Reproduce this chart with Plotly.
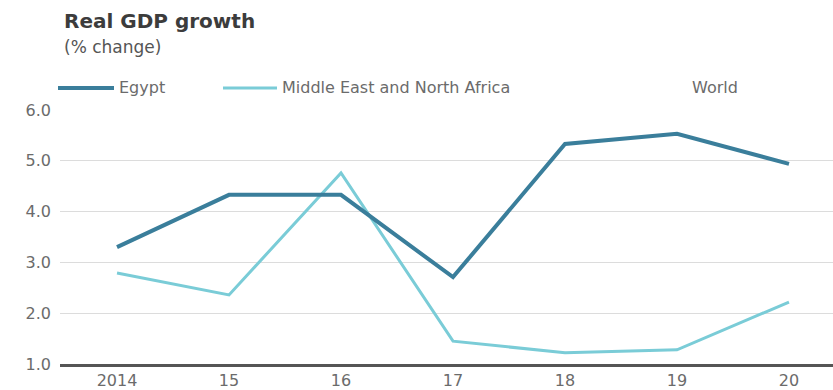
import plotly.graph_objects as go

# ---- data ----
years = ["2014", "15", "16", "17", "18", "19", "20"]
egypt = [3.30, 4.33, 4.33, 2.71, 5.33, 5.53, 4.94]
mena = [2.79, 2.36, 4.76, 1.45, 1.22, 1.28, 2.22]
series_names = ["Egypt", "Middle East and North Africa", "World"]
y_ticks = [1, 2, 3, 4, 5, 6]
y_tick_text = ["1.0", "2.0", "3.0", "4.0", "5.0", "6.0"]

# ---- style ----
C_EGYPT = "#3a7e9b"
C_MENA = "#7accd7"
FONT = "DejaVu Sans"
GREY = "#6b6b6b"

fig = go.Figure()
fig.add_trace(go.Scatter(x=list(range(len(years))), y=mena, mode="lines",
                         name=series_names[1],
                         line=dict(color=C_MENA, width=3)))
fig.add_trace(go.Scatter(x=list(range(len(years))), y=egypt, mode="lines",
                         name=series_names[0],
                         line=dict(color=C_EGYPT, width=4)))

fig.update_layout(
    width=833, height=390,
    margin=dict(l=60, r=0, t=110, b=26),
    paper_bgcolor="white", plot_bgcolor="white",
    showlegend=False,
    font=dict(family=FONT, color=GREY),
)

fig.update_xaxes(
    range=[-0.509, 6.393],
    tickmode="array", tickvals=list(range(len(years))), ticktext=years,
    showgrid=False, zeroline=False,
    showline=True, linecolor="#555555", linewidth=3,
    ticks="", tickfont=dict(size=16, color=GREY, family=FONT),
)
fig.update_yaxes(
    range=[1, 6],
    tickmode="array", tickvals=y_ticks, ticktext=y_tick_text,
    showgrid=True, gridcolor="#dcdcdc", gridwidth=1,
    zeroline=False, showline=False, ticks="",
    tickfont=dict(size=16, color=GREY, family=FONT),
    ticklabelstandoff=8,
)

# title and subtitle
fig.add_annotation(text="<b>Real GDP growth</b>", xref="paper", yref="paper",
                   x=0.003, y=1.0, xanchor="left", yanchor="middle",
                   yshift=110 - 21, showarrow=False,
                   font=dict(size=20, color="#3c3c3c", family=FONT))
fig.add_annotation(text="(% change)", xref="paper", yref="paper",
                   x=0.003, y=1.0, xanchor="left", yanchor="middle",
                   yshift=110 - 47, showarrow=False,
                   font=dict(size=17, color="#555555", family=FONT))

# legend (manual, to match swatch lengths)
legend_y_px = 88
plot_h = 390 - 110 - 26
ly = 1 + (110 - legend_y_px) / plot_h
swatches = [(58, 114, C_EGYPT, 4), (223, 277, C_MENA, 3)]
for (x0, x1, col, w) in swatches:
    fig.add_shape(type="line", xref="paper", yref="paper",
                  x0=(x0 - 60) / 773, x1=(x1 - 60) / 773, y0=ly, y1=ly,
                  line=dict(color=col, width=w))
label_x = [117, 280, 690]
for name, lx in zip(series_names, label_x):
    fig.add_annotation(text=name, xref="paper", yref="paper",
                       x=(lx - 60) / 773, y=ly, xanchor="left", yanchor="middle",
                       showarrow=False,
                       font=dict(size=16, color=GREY, family=FONT))

fig.write_html("out.html")
